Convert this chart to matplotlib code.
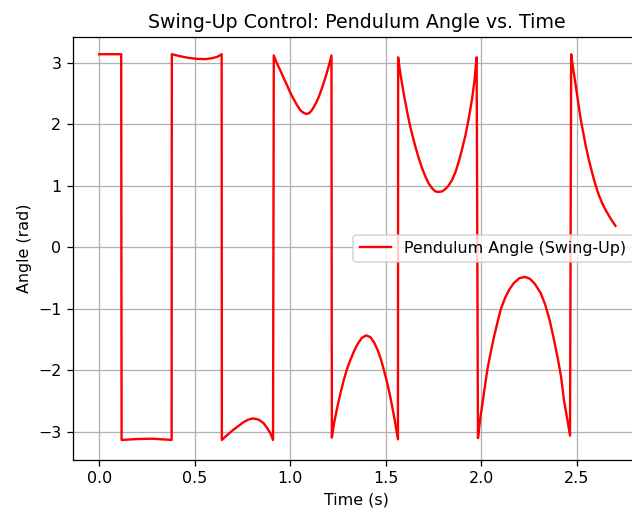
import matplotlib
matplotlib.use("Agg")
import matplotlib.pyplot as plt

# samples (time in s, wrapped angle in rad)
time_s = [
    0.000, 0.060, 0.115,
    0.117, 0.200, 0.280, 0.379,
    0.380, 0.420, 0.460, 0.510, 0.556, 0.590, 0.620, 0.641,
    0.642, 0.670, 0.704, 0.730, 0.756, 0.780, 0.805, 0.835, 0.861, 0.880, 0.896, 0.910,
    0.914, 0.925, 0.937, 0.949, 0.966, 0.984, 1.001, 1.018, 1.036, 1.053, 1.068,
    1.083, 1.098, 1.111, 1.123, 1.137, 1.150, 1.163, 1.176, 1.189, 1.202, 1.216,
    1.218, 1.230, 1.245, 1.263, 1.280, 1.297, 1.315, 1.335, 1.355, 1.375, 1.398,
    1.420, 1.440, 1.458, 1.475, 1.490, 1.505, 1.520, 1.534, 1.549, 1.564,
    1.565, 1.575, 1.586, 1.599, 1.612, 1.625, 1.639, 1.656, 1.673, 1.690, 1.708,
    1.725, 1.743, 1.760, 1.775, 1.795, 1.813, 1.830, 1.848, 1.866, 1.883, 1.900,
    1.918, 1.935, 1.953, 1.965, 1.976,
    1.983, 1.995, 2.008, 2.020, 2.032, 2.050, 2.068, 2.085, 2.102, 2.125, 2.148,
    2.171, 2.200, 2.229, 2.255, 2.280, 2.311, 2.335, 2.358, 2.381, 2.400, 2.418,
    2.433, 2.450, 2.465,
    2.471, 2.482, 2.494, 2.507, 2.520, 2.533, 2.546, 2.563, 2.581, 2.598, 2.616,
    2.633, 2.651, 2.664, 2.677, 2.690, 2.703,
]
angle_rad = [
    3.14, 3.14, 3.14,
    -3.13, -3.115, -3.11, -3.13,
    3.14, 3.11, 3.085, 3.065, 3.06, 3.075, 3.10, 3.14,
    -3.13, -3.05, -2.96, -2.90, -2.84, -2.80, -2.78, -2.80, -2.86, -2.94, -3.02, -3.13,
    3.12, 3.03, 2.95, 2.87, 2.75, 2.63, 2.51, 2.41, 2.31, 2.23, 2.19,
    2.17, 2.18, 2.22, 2.28, 2.36, 2.45, 2.56, 2.68, 2.81, 2.95, 3.12,
    -3.09, -2.85, -2.62, -2.37, -2.16, -1.98, -1.83, -1.68, -1.56, -1.47, -1.43,
    -1.46, -1.55, -1.67, -1.82, -1.99, -2.17, -2.37, -2.59, -2.84, -3.12,
    3.09, 2.86, 2.65, 2.42, 2.21, 2.01, 1.83, 1.63, 1.45, 1.29, 1.15,
    1.04, 0.96, 0.91, 0.90, 0.91, 0.95, 1.01, 1.10, 1.23, 1.40, 1.60,
    1.83, 2.10, 2.43, 2.72, 3.09,
    -3.10, -2.78, -2.50, -2.24, -1.99, -1.70, -1.44, -1.22, -1.01, -0.82, -0.68,
    -0.58, -0.50, -0.48, -0.51, -0.59, -0.74, -0.93, -1.18, -1.50, -1.79, -2.10,
    -2.48, -2.78, -3.06,
    3.14, 2.89, 2.65, 2.37, 2.10, 1.88, 1.67, 1.43, 1.21, 1.02, 0.85,
    0.72, 0.61, 0.54, 0.47, 0.41, 0.35,
]

dpi = 114
fig = plt.figure(figsize=(632 / dpi, 512 / dpi), dpi=dpi)
ax = fig.add_axes([72.5 / 632, 52 / 512, 568 / 632, 423 / 512])

ax.plot(time_s, angle_rad, color='red', linewidth=1.5, label='Pendulum Angle (Swing-Up)')
ax.set_xlim(-0.140, 2.834)
ax.set_ylim(-3.456, 3.42)
ax.set_title('Swing-Up Control: Pendulum Angle vs. Time')
ax.set_xlabel('Time (s)')
ax.set_ylabel('Angle (rad)')
ax.grid(True)
ax.legend(loc='center right')

fig.savefig('out.png', dpi=dpi)
